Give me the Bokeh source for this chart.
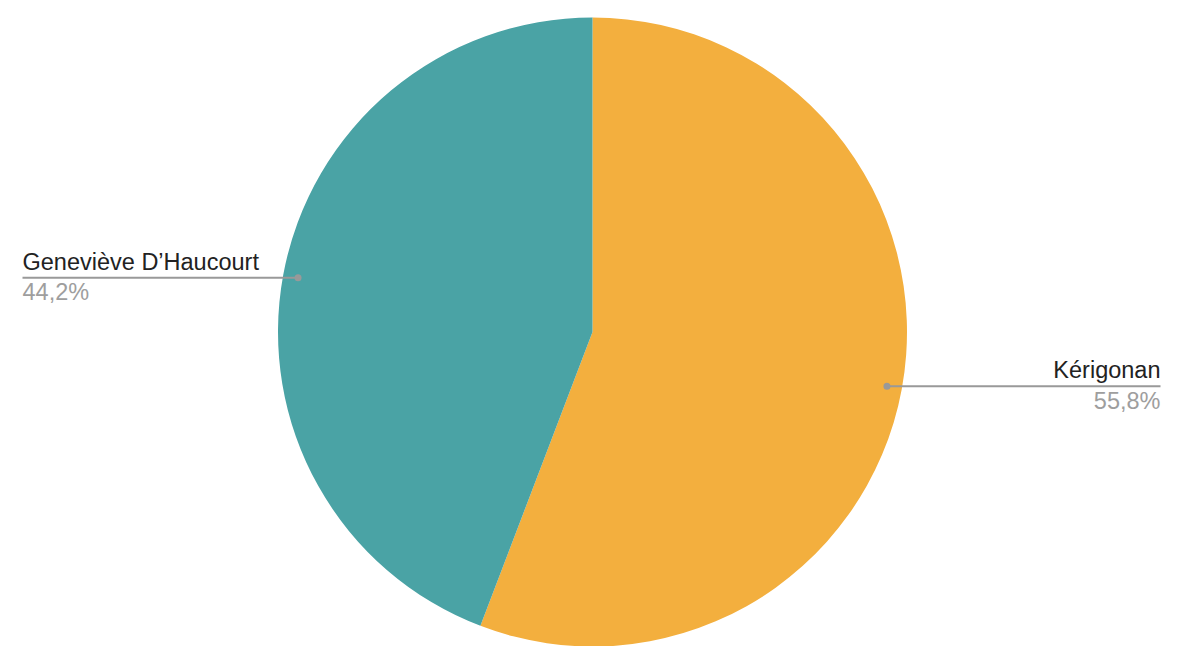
import math
from bokeh.plotting import figure
from bokeh.models import Range1d, ColumnDataSource
from bokeh.embed import file_html
from bokeh.resources import INLINE
from bokeh.core.properties import value

labels = ["Kérigonan", "Geneviève D’Haucourt"]
shares = [55.8, 44.2]
pct_labels = ["55,8%", "44,2%"]
colors = ["#F3AF3E", "#4AA3A5"]

W, H = 1170, 646
p = figure(width=W, height=H, output_backend="svg", toolbar_location=None,
           x_range=Range1d(0, W), y_range=Range1d(0, H), min_border=0)
p.axis.visible = False
p.grid.visible = False
p.outline_line_color = None

cx, cy, R = 592, 314.5, 314.5
total = sum(shares)
starts, ends, mids = [], [], []
a = math.pi / 2
for s in shares:
    da = 2 * math.pi * s / total
    starts.append(a)
    ends.append(a - da)
    mids.append(a - da / 2)
    a -= da

src = ColumnDataSource(dict(start=starts, end=ends, color=colors))
p.wedge(x=cx, y=cy, radius=R, start_angle="start", end_angle="end",
        direction="clock", fill_color="color", line_color=None, source=src)

FONT = value("Liberation Sans")
for name, pct, m in zip(labels, pct_labels, mids):
    dx = cx + 0.952 * R * math.cos(m)
    dy = cy + 0.952 * R * math.sin(m)
    if math.cos(m) >= 0:
        ex, align = 1160, "right"
    else:
        ex, align = 22, "left"
    p.line([dx, ex], [dy, dy], line_color="#999999", line_width=2)
    p.scatter([dx], [dy], size=7, fill_color="#999999", line_color=None)
    p.text([ex], [dy + 16], text=[name], text_align=align, text_baseline="alphabetic",
           text_font=FONT, text_font_size="23.5px", text_color="#222222")
    p.text([ex], [dy - 14.5], text=[pct], text_align=align, text_baseline="alphabetic",
           text_font=FONT, text_font_size="23.5px", text_color="#9E9E9E")

open("out.html", "w").write(file_html(p, INLINE))
